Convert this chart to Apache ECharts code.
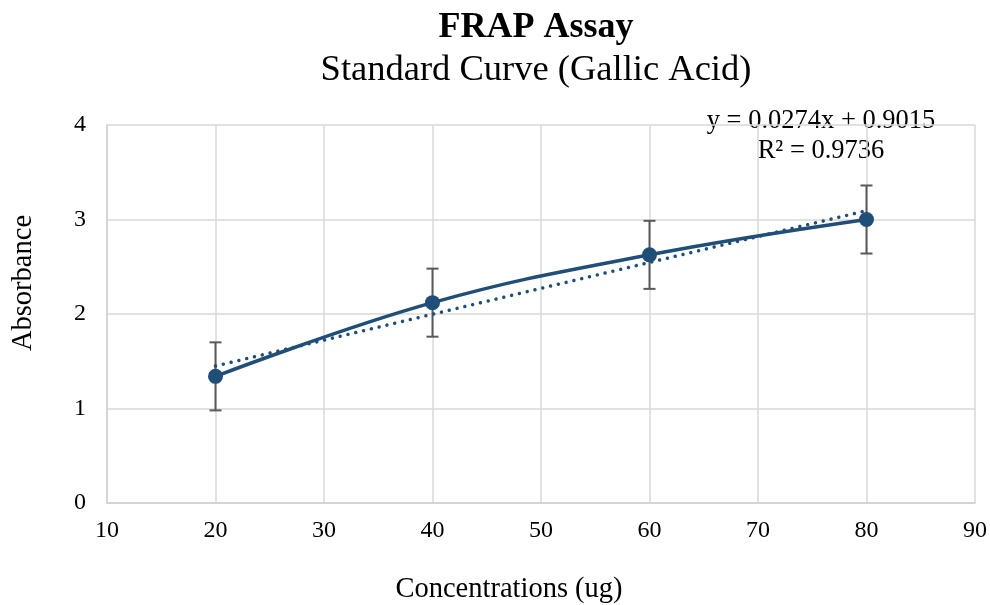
<!DOCTYPE html>
<html>
<head>
<meta charset="utf-8">
<script src="https://cdn.jsdelivr.net/npm/echarts@6/dist/echarts.min.js"></script>
<style>
  html, body { margin: 0; padding: 0; background: #fff; }
  #chart { width: 990px; height: 605px; }
</style>
</head>
<body>
<div id="chart"></div>
<script>
// Gallic acid standard curve (FRAP)
const concentrations = [20, 40, 60, 80];
const absorbance = [1.34, 2.12, 2.626, 3.0];
const errorAmount = [0.36, 0.36, 0.36, 0.36];
const xTicks = [10, 20, 30, 40, 50, 60, 70, 80, 90];
const yTicks = [0, 1, 2, 3, 4];
const trendSlope = 0.0274;
const trendIntercept = 0.9015;
const trendRange = [20, 80];
const titleText = 'FRAP Assay';
const subtitleText = 'Standard Curve (Gallic Acid)';
const xNameText = 'Concentrations (ug)';
const yNameText = 'Absorbance';
const equationText = 'y = 0.0274x + 0.9015';
const r2Text = 'R² = 0.9736';

const FONT = '"Liberation Serif", "Times New Roman", serif';
const BLUE = '#1F4E79';

const trendData = trendRange.map(x => [x, trendSlope * x + trendIntercept]);
const errorData = concentrations.map((x, i) => [x, absorbance[i] - errorAmount[i], absorbance[i] + errorAmount[i]]);

function label(text, x, y, size, opts) {
  opts = opts || {};
  return {
    type: 'text',
    x: x, y: y,
    rotation: opts.rotation || 0,
    silent: true,
    style: {
      text: text, fontFamily: FONT, fontSize: size,
      fontWeight: opts.bold ? 'bold' : 'normal',
      fill: '#000', align: 'center', verticalAlign: 'middle'
    }
  };
}

const chart = echarts.init(document.getElementById('chart'), null, { renderer: 'canvas' });

chart.setOption({
  backgroundColor: '#ffffff',
  animation: false,
  grid: { left: 107, right: 15, top: 125, bottom: 102, containLabel: false, outerBoundsMode: 'none' },
  xAxis: {
    type: 'value', min: xTicks[0], max: xTicks[xTicks.length - 1], interval: 10,
    axisLine: { show: true, lineStyle: { color: '#d0d0d0', width: 1.5 } },
    axisTick: { show: false },
    axisLabel: { fontFamily: FONT, fontSize: 24, color: '#000', margin: 16 },
    splitLine: { show: true, lineStyle: { color: '#d9d9d9', width: 1.5 } }
  },
  yAxis: {
    type: 'value', min: yTicks[0], max: yTicks[yTicks.length - 1], interval: 1,
    axisLine: { show: true, lineStyle: { color: '#d0d0d0', width: 1.5 } },
    axisTick: { show: false },
    axisLabel: { fontFamily: FONT, fontSize: 24, color: '#000', margin: 21 },
    splitLine: { show: true, lineStyle: { color: '#d9d9d9', width: 1.5 } }
  },
  series: [
    {
      name: 'Error',
      type: 'custom',
      z: 3,
      data: errorData,
      renderItem: function (params, api) {
        const x = api.value(0);
        const low = api.coord([x, api.value(1)]);
        const high = api.coord([x, api.value(2)]);
        const cap = 6;
        const style = { stroke: '#595959', lineWidth: 2, fill: null };
        return {
          type: 'group',
          children: [
            { type: 'line', shape: { x1: low[0], y1: low[1], x2: high[0], y2: high[1] }, style: style },
            { type: 'line', shape: { x1: low[0] - cap, y1: low[1], x2: low[0] + cap, y2: low[1] }, style: style },
            { type: 'line', shape: { x1: high[0] - cap, y1: high[1], x2: high[0] + cap, y2: high[1] }, style: style }
          ]
        };
      }
    },
    {
      name: 'Trend',
      type: 'line',
      z: 4,
      data: trendData,
      symbol: 'none',
      lineStyle: { color: BLUE, width: 3.5, type: [0.01, 8], cap: 'round' }
    },
    {
      name: 'Absorbance',
      type: 'line',
      z: 5,
      data: concentrations.map((x, i) => [x, absorbance[i]]),
      smooth: 0.4,
      symbol: 'circle',
      symbolSize: 15,
      itemStyle: { color: BLUE },
      lineStyle: { color: BLUE, width: 3.5 }
    }
  ],
  graphic: [
    label(titleText, 536, 28, 36, { bold: true }),
    label(subtitleText, 536, 70, 36.5),
    label(equationText, 821, 121, 26.5),
    label(r2Text, 821, 151, 26.5),
    label(xNameText, 509, 590, 28.5),
    label(yNameText, 24, 283, 28.5, { rotation: Math.PI / 2 })
  ]
});
</script>
</body>
</html>
